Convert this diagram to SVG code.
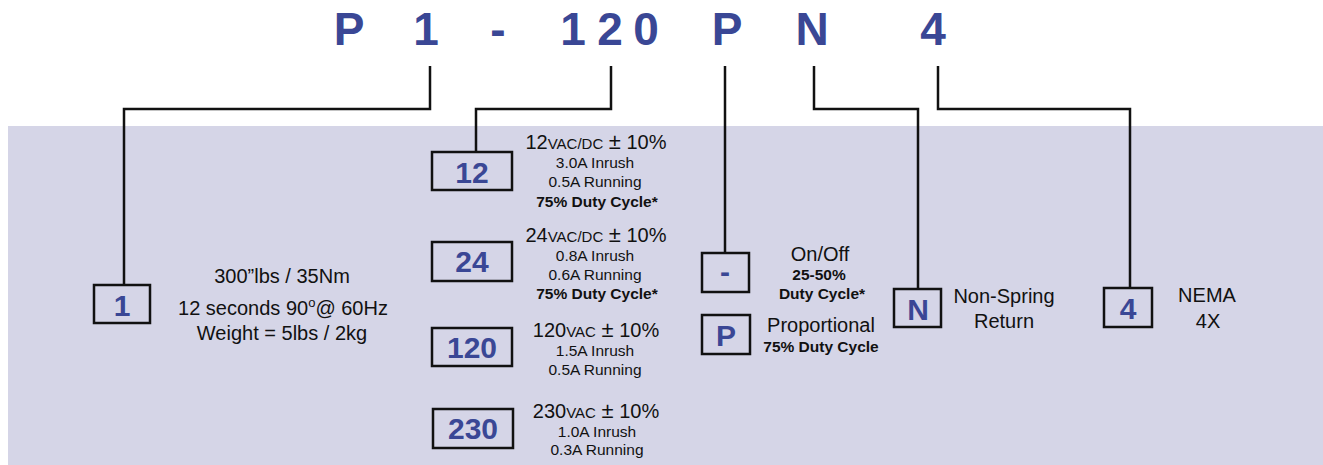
<svg xmlns="http://www.w3.org/2000/svg" width="1323" height="465" viewBox="0 0 1323 465">
<style>
.hd{font-family:"Liberation Sans",Arial,sans-serif;font-weight:bold;font-size:46px;fill:#3a4795;text-anchor:middle}
.bx{fill:none;stroke:#111;stroke-width:2.5}
.bt{font-family:"Liberation Sans",Arial,sans-serif;font-weight:bold;font-size:30px;fill:#3a4795;text-anchor:middle}
.t20{font-family:"Liberation Sans",Arial,sans-serif;font-size:20px;fill:#111;text-anchor:middle}
.t15{font-family:"Liberation Sans",Arial,sans-serif;font-size:15.5px;fill:#111;text-anchor:middle}
.b15{font-family:"Liberation Sans",Arial,sans-serif;font-size:15.5px;font-weight:bold;fill:#111;text-anchor:middle}
.sm{font-size:15px}
.pm{font-size:22px}
.cn{fill:none;stroke:#111;stroke-width:2.5}
</style>
<rect x="8" y="126" width="1315" height="339" fill="#d5d5e7"/>
<g id="header">
<text class="hd" x="349" y="45">P</text>
<text class="hd" x="426" y="45">1</text>
<text class="hd" x="498" y="45">-</text>
<text class="hd" x="573" y="45">1</text>
<text class="hd" x="610" y="45">2</text>
<text class="hd" x="646" y="45">0</text>
<text class="hd" x="727" y="45">P</text>
<text class="hd" x="812" y="45">N</text>
<text class="hd" x="933" y="45">4</text>
</g>
<g id="connectors">
<path class="cn" d="M430,66 V109 H124 V285"/>
<path class="cn" d="M611,66 V109 H476 V152"/>
<path class="cn" d="M725,66 V253"/>
<path class="cn" d="M814,66 V109 H918 V289"/>
<path class="cn" d="M938,66 V109 H1130 V288"/>
</g>
<g id="node-1">
<rect class="bx" x="94" y="285" width="56" height="38"/>
<text class="bt" x="122" y="316">1</text>
<text class="t20" x="282" y="283">300”lbs / 35Nm</text>
<text class="t20" x="283" y="315">12 seconds 90<tspan font-size="13" dy="-8">o</tspan><tspan dy="8">@ 60Hz</tspan></text>
<text class="t20" x="282" y="340">Weight = 5lbs / 2kg</text>
</g>
<g id="node-12">
<rect class="bx" x="432" y="152" width="80" height="38"/>
<text class="bt" x="472" y="183">12</text>
<text class="t20" x="596" y="149">12<tspan class="sm">VAC/DC</tspan> <tspan class="pm">±</tspan> 10%</text>
<text class="t15" x="595" y="168">3.0A Inrush</text>
<text class="t15" x="595" y="187">0.5A Running</text>
<text class="b15" x="597" y="207">75% Duty Cycle*</text>
</g>
<g id="node-24">
<rect class="bx" x="432" y="242" width="80" height="39"/>
<text class="bt" x="472" y="272">24</text>
<text class="t20" x="596" y="242">24<tspan class="sm">VAC/DC</tspan> <tspan class="pm">±</tspan> 10%</text>
<text class="t15" x="595" y="261">0.8A Inrush</text>
<text class="t15" x="595" y="280">0.6A Running</text>
<text class="b15" x="597" y="299">75% Duty Cycle*</text>
</g>
<g id="node-120">
<rect class="bx" x="432" y="328" width="80" height="38"/>
<text class="bt" x="472" y="358">120</text>
<text class="t20" x="596" y="337">120<tspan class="sm">VAC</tspan> <tspan class="pm">±</tspan> 10%</text>
<text class="t15" x="595" y="356">1.5A Inrush</text>
<text class="t15" x="595" y="375">0.5A Running</text>
</g>
<g id="node-230">
<rect class="bx" x="433" y="409" width="80" height="39"/>
<text class="bt" x="473" y="439">230</text>
<text class="t20" x="596" y="418">230<tspan class="sm">VAC</tspan> <tspan class="pm">±</tspan> 10%</text>
<text class="t15" x="597" y="437">1.0A Inrush</text>
<text class="t15" x="597" y="455">0.3A Running</text>
</g>
<g id="node-dash">
<rect class="bx" x="702" y="253" width="47" height="39"/>
<text class="bt" x="725" y="282">-</text>
<text class="t20" x="820" y="261">On/Off</text>
<text class="b15" x="819" y="280">25-50%</text>
<text class="b15" x="822" y="299">Duty Cycle*</text>
</g>
<g id="node-P">
<rect class="bx" x="702" y="315" width="48" height="39"/>
<text class="bt" x="726" y="346">P</text>
<text class="t20" x="821" y="332">Proportional</text>
<text class="b15" x="821" y="352">75% Duty Cycle</text>
</g>
<g id="node-N">
<rect class="bx" x="894" y="289" width="47" height="38"/>
<text class="bt" x="918" y="320">N</text>
<text class="t20" x="1004" y="303">Non-Spring</text>
<text class="t20" x="1004" y="328">Return</text>
</g>
<g id="node-4">
<rect class="bx" x="1104" y="288" width="48" height="39"/>
<text class="bt" x="1128" y="319">4</text>
<text class="t20" x="1207" y="302">NEMA</text>
<text class="t20" x="1208" y="328">4X</text>
</g>
</svg>
